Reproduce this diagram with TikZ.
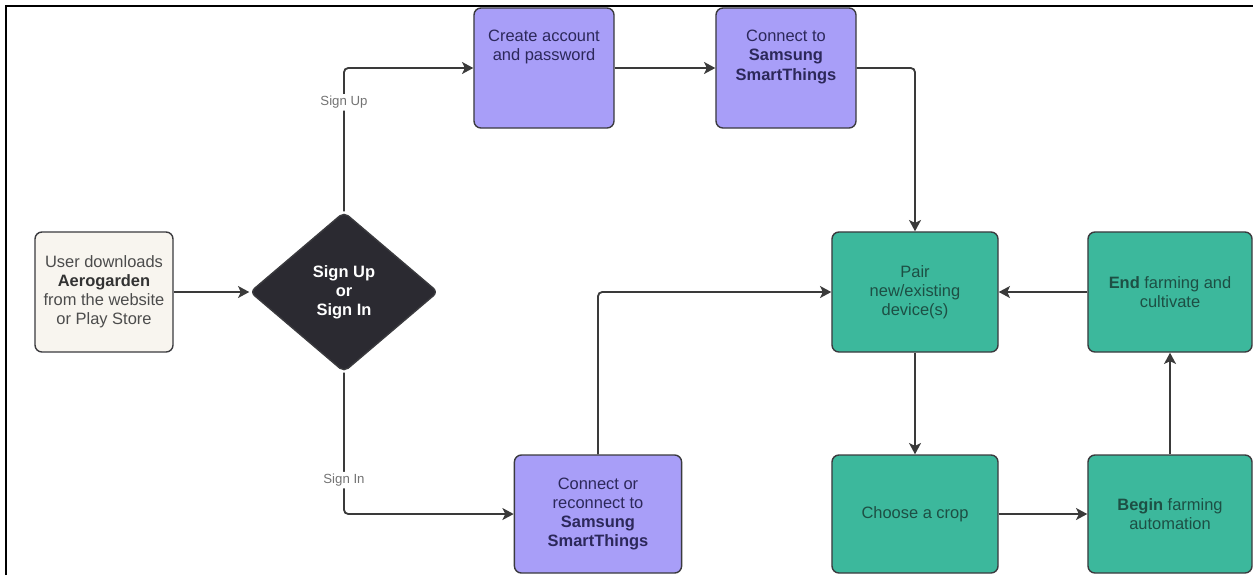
\documentclass[tikz,border=0pt]{standalone}
\usepackage{fontspec}
\setmainfont{Liberation Sans}
\usetikzlibrary{shapes.geometric,arrows.meta}
\definecolor{creamfill}{HTML}{F8F5EF}
\definecolor{boxline}{HTML}{3A3A3E}
\definecolor{darkfill}{HTML}{2B2A31}
\definecolor{purplefill}{HTML}{A89EF8}
\definecolor{purpletext}{HTML}{2C285A}
\definecolor{tealfill}{HTML}{3CB89C}
\definecolor{tealtext}{HTML}{1D4F44}
\definecolor{flowline}{HTML}{3A3A3A}
\begin{document}
\begin{tikzpicture}
[x=0.025cm, y=-0.025cm,
box/.style={draw=boxline, line width=1pt, rounded corners=5pt, align=center,
            inner sep=2pt, font=\fontsize{11.7}{13.6}\selectfont},
flow/.style={draw=flowline, line width=1.3pt, rounded corners=3pt,
             -{Stealth[length=8pt,width=8.5pt,inset=2pt]}},
lbl/.style={fill=white, text=black!55, inner sep=1.5pt, font=\fontsize{9.4}{11}\selectfont}
]
\useasboundingbox (0,0) rectangle (1253,575);
\clip (0,0) rectangle (1253,575);
% frame of the screenshot
\draw[line width=2pt] (6,575) -- (6,6) -- (1253,6);
% start and choice
\node[box, fill=creamfill, text=black!70, minimum width=3.45cm, minimum height=3cm] (user) at (104,292)
    {User downloads\\ \textbf{\color{black!80}Aerogarden}\\ from the website\\ or Play Store};
\node[draw=boxline, fill=darkfill, shape=diamond, line width=1pt, rounded corners=4pt,
      minimum width=4.7cm, minimum height=4cm, inner sep=0pt, text=white, align=center,
      font=\bfseries\fontsize{11.7}{13.6}\selectfont] (choice) at (344,292)
    {Sign Up\\ or\\ Sign In};
% purple steps
\node[box, fill=purplefill, text=purpletext, minimum width=3.5cm, minimum height=3cm] (create) at (544,68)
    {Create account\\ and password\\[1.6em]};
\node[box, fill=purplefill, text=purpletext, minimum width=3.5cm, minimum height=3cm] (connect) at (786,68)
    {Connect to\\ \textbf{Samsung}\\ \textbf{SmartThings}\\[0.4em]};
\node[box, fill=purplefill, text=purpletext, minimum width=4.18cm, minimum height=2.95cm] (reconnect) at (598,514)
    {Connect or\\ reconnect to\\ \textbf{Samsung}\\ \textbf{SmartThings}};
% teal steps
\node[box, fill=tealfill, text=tealtext, minimum width=4.15cm, minimum height=3cm] (pair) at (915,292)
    {Pair\\ new/existing\\ device(s)};
\node[box, fill=tealfill, text=tealtext, minimum width=4.1cm, minimum height=3cm] (endf) at (1170,292)
    {\textbf{End} farming and\\ cultivate};
\node[box, fill=tealfill, text=tealtext, minimum width=4.15cm, minimum height=2.95cm] (choose) at (915,514)
    {Choose a crop};
\node[box, fill=tealfill, text=tealtext, minimum width=4.1cm, minimum height=2.95cm] (begin) at (1170,514)
    {\textbf{Begin} farming\\ automation};
% connectors
\draw[flow] (user) -- (choice);
\draw[flow] (choice.north) |- node[lbl, pos=0.38] {Sign Up} (create.west);
\draw[flow] (choice.south) |- node[lbl, pos=0.38] {Sign In} (reconnect.west);
\draw[flow] (create) -- (connect);
\draw[flow] (connect.east) -| (pair.north);
\draw[flow] (reconnect.north) |- (pair.west);
\draw[flow] (endf) -- (pair);
\draw[flow] (pair) -- (choose);
\draw[flow] (choose) -- (begin);
\draw[flow] (begin) -- (endf);
\end{tikzpicture}
\end{document}
